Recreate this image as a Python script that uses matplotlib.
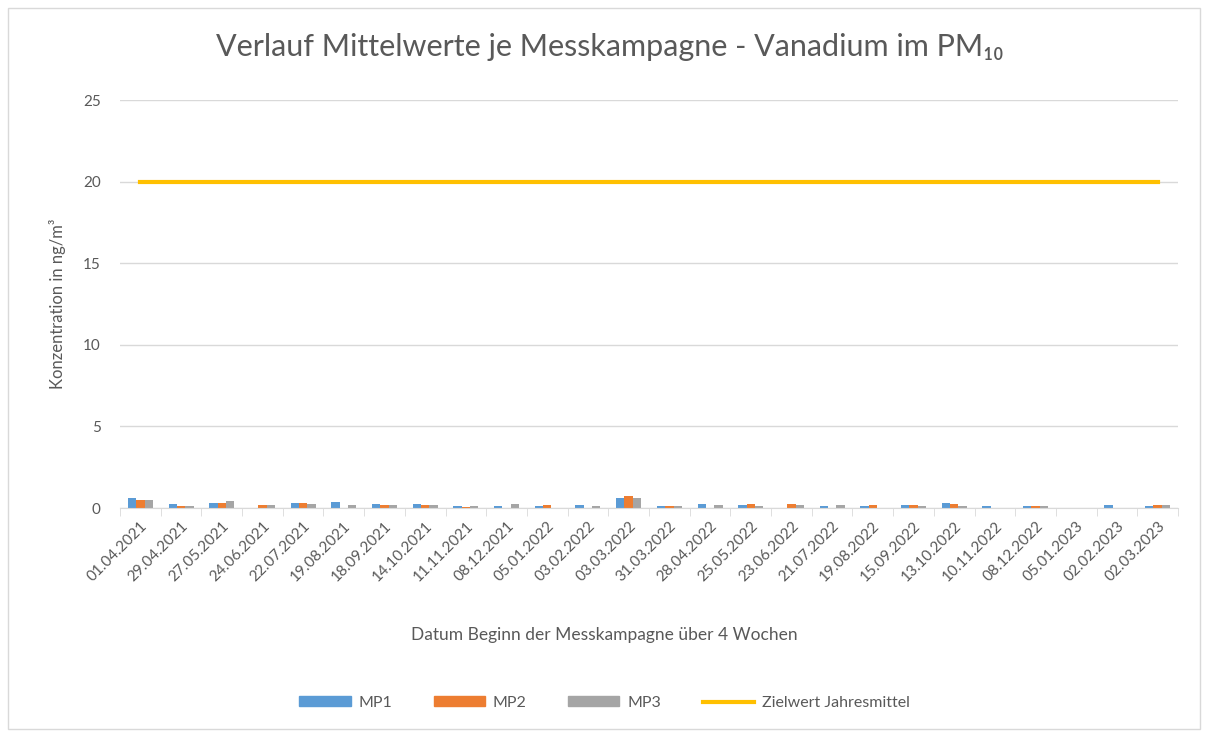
import numpy as np
import matplotlib.pyplot as plt
from matplotlib.patches import Rectangle
from matplotlib.lines import Line2D

dates = ["01.04.2021", "29.04.2021", "27.05.2021", "24.06.2021", "22.07.2021",
         "19.08.2021", "18.09.2021", "14.10.2021", "11.11.2021", "08.12.2021",
         "05.01.2022", "03.02.2022", "03.03.2022", "31.03.2022", "28.04.2022",
         "25.05.2022", "23.06.2022", "21.07.2022", "19.08.2022", "15.09.2022",
         "13.10.2022", "10.11.2022", "08.12.2022", "05.01.2023", "02.02.2023",
         "02.03.2023"]
mp1 = [0.61, 0.24, 0.30, 0.02, 0.33, 0.37, 0.24, 0.24, 0.12, 0.14,
       0.12, 0.20, 0.63, 0.14, 0.24, 0.20, 0.02, 0.14, 0.12, 0.20,
       0.30, 0.14, 0.14, 0.02, 0.16, 0.12]
mp2 = [0.49, 0.14, 0.30, 0.16, 0.29, 0.02, 0.18, 0.18, 0.06, 0.02,
       0.16, 0.02, 0.73, 0.14, 0.02, 0.27, 0.27, 0.02, 0.16, 0.20,
       0.22, 0.02, 0.14, 0.02, 0.02, 0.16]
mp3 = [0.51, 0.14, 0.43, 0.18, 0.25, 0.20, 0.18, 0.18, 0.14, 0.24,
       0.02, 0.14, 0.63, 0.14, 0.20, 0.14, 0.16, 0.16, 0.02, 0.14,
       0.14, 0.02, 0.14, 0.02, 0.02, 0.16]
zielwert = 20

plt.rcParams['font.family'] = ['Lato', 'DejaVu Sans']
txt = '#595959'

fig = plt.figure(figsize=(12.09, 7.33), dpi=100)
ax = fig.add_axes([120 / 1209, 1 - 508 / 733, 1058 / 1209, 408 / 733])

x = np.arange(len(dates))
w = 0.205
ax.bar(x - w, mp1, w, color='#5b9bd5', label='MP1')
ax.bar(x, mp2, w, color='#ed7d31', label='MP2')
ax.bar(x + w, mp3, w, color='#a5a5a5', label='MP3')
ax.plot(x, [zielwert] * len(x), color='#ffc000', lw=3, label='Zielwert Jahresmittel')

ax.set_xlim(-0.5, len(dates) - 0.5)
ax.set_ylim(0, 25)
ax.set_yticks([0, 5, 10, 15, 20, 25])
ax.yaxis.grid(True, color='#d9d9d9', lw=1)
ax.set_axisbelow(True)
for s in ['top', 'right', 'left']:
    ax.spines[s].set_visible(False)
ax.spines['bottom'].set_color('#d9d9d9')
ax.tick_params(axis='y', length=0, labelsize=11, labelcolor=txt, pad=14)

ax.set_xticks(x)
ax.set_xticklabels(dates, rotation=45, ha='right', rotation_mode='anchor',
                   fontsize=11, color=txt)
ax.set_xticks(np.arange(len(dates) + 1) - 0.5, minor=True)
ax.tick_params(axis='x', which='major', length=0, pad=8)
ax.tick_params(axis='x', which='minor', length=6, color='#d9d9d9')

ax.set_ylabel('Konzentration in ng/m³', fontsize=12, color=txt, labelpad=12)
fig.text(0.5, 1 - 635 / 733, 'Datum Beginn der Messkampagne über 4 Wochen',
         ha='center', va='center', fontsize=12.5, color=txt)
fig.text(0.504, 1 - 47 / 733, 'Verlauf Mittelwerte je Messkampagne - Vanadium im PM₁₀',
         ha='center', va='center', fontsize=22, color=txt)

handles = [Rectangle((0, 0), 1, 1, color='#5b9bd5'),
           Rectangle((0, 0), 1, 1, color='#ed7d31'),
           Rectangle((0, 0), 1, 1, color='#a5a5a5'),
           Line2D([], [], color='#ffc000', lw=3)]
leg = fig.legend(handles, ['MP1', 'MP2', 'MP3', 'Zielwert Jahresmittel'],
                 loc='center', bbox_to_anchor=(0.5, 1 - 703 / 733), ncol=4,
                 frameon=False, fontsize=11.5, handlelength=3.2, handleheight=0.6,
                 columnspacing=2.6, handletextpad=0.5)
for t in leg.get_texts():
    t.set_color(txt)

fig.patches.append(Rectangle((8 / 1209, 0.005), 1192 / 1209, 1 - 8 / 733 - 0.005,
                             transform=fig.transFigure, fill=False,
                             edgecolor='#d9d9d9', lw=1))

fig.savefig('out.png', dpi=100)
